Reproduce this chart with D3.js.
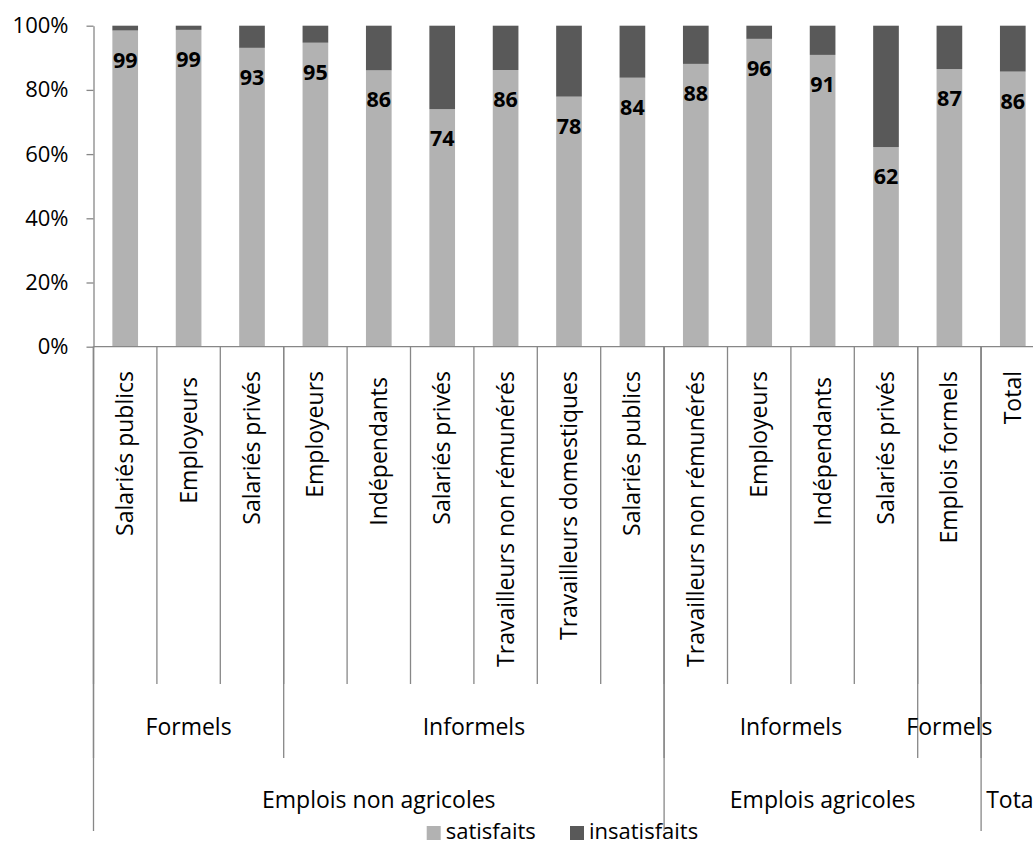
<!DOCTYPE html>
<html>
<head>
<meta charset="utf-8">
<script src="https://cdn.jsdelivr.net/npm/d3@7"></script>
<style>
  html, body { margin: 0; padding: 0; background: #fff; }
  svg { display: block; }
  text { font-family: "Open Sans", "Noto Sans", sans-serif; }
</style>
</head>
<body>
<svg id="chart" width="1033" height="845"></svg>
<script>
// ---- Data ----
const categories = [
  "Salariés publics", "Employeurs ", "Salariés privés",
  "Employeurs", "Indépendants ", "Salariés privés", "Travailleurs non rémunérés",
  "Travailleurs domestiques", "Salariés publics",
  "Travailleurs non rémunérés", "Employeurs", "Indépendants ", "Salariés privés",
  "Emplois formels",
  "Total"
];
const satisfaits   = [98.5, 98.7, 93.1, 94.7, 86.1, 74.0, 86.2, 77.9, 83.8, 88.1, 95.9, 90.9, 62.2, 86.5, 85.7];
const insatisfaits = [1.5, 1.3, 6.9, 5.3, 13.9, 26.0, 13.8, 22.1, 16.2, 11.9, 4.1, 9.1, 37.8, 13.5, 14.3];
const seriesNames  = ["satisfaits", "insatisfaits"];
const seriesColors = ["#b2b2b2", "#595959"];
const yTicks = [0, 20, 40, 60, 80, 100];

// group levels: label, first category index, end index (exclusive)
const level2Labels = ["Formels", "Informels", "Informels", "Formels", ""];
const level2Starts = [0, 3, 9, 13, 14];
const level2Ends   = [3, 9, 13, 14, 15];
const level3Labels = ["Emplois non agricoles", "Emplois agricoles", "Total"];
const level3Starts = [0, 9, 14];
const level3Ends   = [9, 14, 15];

// ---- Layout ----
const svg = d3.select("#chart");
const axisColor = "#878787";
const labelSize = 23;
const plotLeft = 93.5, plotRight = 1044.5, plotTop = 25.7, plotBottom = 346.7;
const lvl1Bottom = 684, lvl2Bottom = 758, lvl3Bottom = 831;

const idx = d3.range(categories.length);
const x = d3.scaleBand().domain(idx).range([plotLeft, plotRight]).padding(0);
const barFrac = 0.405;
const barW = x.bandwidth() * barFrac;
const y = d3.scaleLinear().domain([0, 100]).range([plotBottom, plotTop]);
const edge = i => (i < categories.length ? x(i) : x(categories.length - 1) + x.bandwidth());

// ---- Bars (stacked) ----
const stackData = idx.map(i => ({ i, satisfaits: satisfaits[i], insatisfaits: insatisfaits[i] }));
const stacked = d3.stack().keys(seriesNames)(stackData);

svg.append("g").selectAll("g")
  .data(stacked)
  .join("g")
  .attr("fill", (d, k) => seriesColors[k])
  .selectAll("rect")
  .data(d => d)
  .join("rect")
  .attr("x", d => x(d.data.i) + (x.bandwidth() - barW) / 2)
  .attr("width", barW)
  .attr("y", d => y(d[1]))
  .attr("height", d => y(d[0]) - y(d[1]));

// ---- Value labels ----
svg.append("g").selectAll("text")
  .data(idx)
  .join("text")
  .attr("x", i => x(i) + x.bandwidth() / 2)
  .attr("y", i => y(satisfaits[i]) + 29.5)
  .attr("dy", "0.35em")
  .attr("text-anchor", "middle")
  .attr("font-size", 21.5)
  .attr("font-weight", "bold")
  .attr("fill", "#000")
  .text(i => Math.round(satisfaits[i]));

// ---- Y axis ----
const yAxis = svg.append("g")
  .attr("transform", `translate(${plotLeft},0)`)
  .call(d3.axisLeft(y).tickValues(yTicks).tickFormat(d => d + "%").tickSize(7).tickSizeOuter(0).tickPadding(18));
yAxis.select(".domain").attr("stroke", axisColor).attr("stroke-width", 1.3);
yAxis.selectAll(".tick line").attr("stroke", axisColor).attr("stroke-width", 1.3);
yAxis.selectAll(".tick text").attr("font-size", 22).attr("fill", "#000")
  .attr("font-family", '"Open Sans", "Noto Sans", sans-serif');

// ---- X axis baseline ----
svg.append("line")
  .attr("x1", plotLeft).attr("x2", plotRight)
  .attr("y1", plotBottom).attr("y2", plotBottom)
  .attr("stroke", axisColor).attr("stroke-width", 1.3);

// level 1 ticks
const g1 = svg.append("g");
g1.selectAll("line")
  .data(d3.range(categories.length + 1))
  .join("line")
  .attr("x1", i => edge(i)).attr("x2", i => edge(i))
  .attr("y1", plotBottom).attr("y2", lvl1Bottom)
  .attr("stroke", axisColor).attr("stroke-width", 1.3);

// level 1 labels (rotated)
g1.selectAll("text")
  .data(idx)
  .join("text")
  .attr("transform", i => `translate(${x(i) + x.bandwidth() / 2},371) rotate(-90)`)
  .attr("text-anchor", "end")
  .attr("dy", "0.35em")
  .attr("font-size", labelSize)
  .attr("fill", "#000")
  .style("white-space", "pre")
  .text(i => categories[i]);

// level 2 separators & labels
const g2 = svg.append("g");
const l2Edges = Array.from(new Set(level2Starts.concat(level2Ends)));
g2.selectAll("line")
  .data(l2Edges)
  .join("line")
  .attr("x1", e => edge(e)).attr("x2", e => edge(e))
  .attr("y1", plotBottom).attr("y2", lvl2Bottom)
  .attr("stroke", axisColor).attr("stroke-width", 1.3);
g2.selectAll("text")
  .data(level2Labels.map((l, k) => k))
  .join("text")
  .attr("x", k => (edge(level2Starts[k]) + edge(level2Ends[k])) / 2)
  .attr("y", 735)
  .attr("text-anchor", "middle")
  .attr("font-size", labelSize)
  .attr("fill", "#000")
  .text(k => level2Labels[k]);

// level 3 separators & labels
const g3 = svg.append("g");
const l3Edges = Array.from(new Set(level3Starts.concat(level3Ends)));
g3.selectAll("line")
  .data(l3Edges)
  .join("line")
  .attr("x1", e => edge(e)).attr("x2", e => edge(e))
  .attr("y1", plotBottom).attr("y2", lvl3Bottom)
  .attr("stroke", axisColor).attr("stroke-width", 1.3);
g3.selectAll("text")
  .data(level3Labels.map((l, k) => k))
  .join("text")
  .attr("x", k => (edge(level3Starts[k]) + edge(level3Ends[k])) / 2)
  .attr("y", 808)
  .attr("text-anchor", "middle")
  .attr("font-size", labelSize)
  .attr("fill", "#000")
  .text(k => level3Labels[k]);

// ---- Legend ----
const legendX = [426.7, 570];
const legend = svg.append("g");
const items = legend.selectAll("g")
  .data(seriesNames.map((n, k) => k))
  .join("g")
  .attr("transform", k => `translate(${legendX[k]},0)`);
items.append("rect")
  .attr("x", 0).attr("y", 826)
  .attr("width", 14).attr("height", 14)
  .attr("fill", k => seriesColors[k]);
items.append("text")
  .attr("x", 19).attr("y", 838.5)
  .attr("font-size", 22)
  .attr("fill", "#000")
  .text(k => seriesNames[k]);
</script>
</body>
</html>
